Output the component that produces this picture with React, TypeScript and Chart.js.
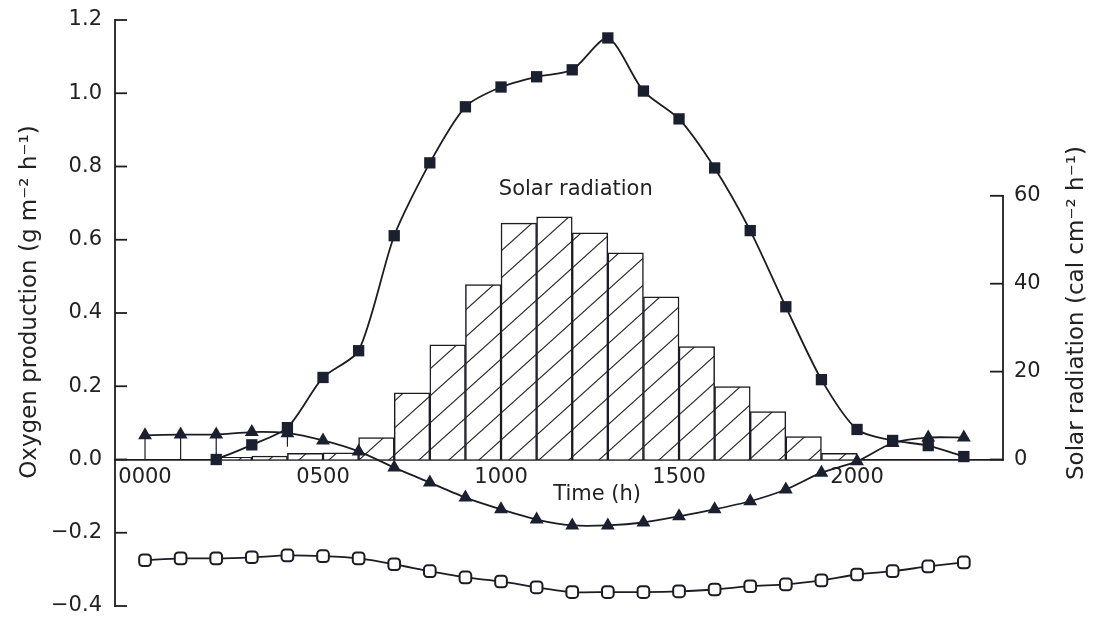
import React, { useEffect, useRef } from 'react';
import { Chart, registerables } from 'chart.js';

Chart.register(...registerables);

// ---------- data ----------
const hours = [0, 1, 2, 3, 4, 5, 6, 7, 8, 9, 10, 11, 12, 13, 14, 15, 16, 17, 18, 19, 20, 21, 22, 23];

// Gross production (filled squares), g m-2 h-1 (null = not measured)
const grossProduction = [null, null, 0.0, 0.04, 0.087, 0.224, 0.297, 0.611, 0.81, 0.963, 1.017, 1.045, 1.064, 1.151, 1.006, 0.93, 0.796, 0.625, 0.417, 0.218, 0.082, 0.052, 0.038, 0.008];

// Net production (filled triangles)
const netProduction = [0.066, 0.068, 0.068, 0.075, 0.072, 0.052, 0.022, -0.022, -0.063, -0.104, -0.136, -0.164, -0.18, -0.18, -0.172, -0.155, -0.136, -0.114, -0.082, -0.036, -0.005, 0.045, 0.06, 0.06];

// Respiration (open squares)
const respiration = [-0.275, -0.27, -0.27, -0.267, -0.262, -0.264, -0.27, -0.286, -0.305, -0.322, -0.333, -0.349, -0.362, -0.362, -0.362, -0.36, -0.355, -0.346, -0.341, -0.33, -0.314, -0.305, -0.292, -0.281];

// Lower ends of the thin vertical drop lines (null = none)
const netDropTo = [0, 0, 0, null, null, null, null, null, null, null, null, null, null, null, null, null, null, null, null, null, null, null, null, null];
const grossDropTo = [null, null, null, null, 0.035, null, null, null, null, null, null, null, null, null, null, null, null, null, null, null, null, null, null, null];

// Solar radiation, hourly bins starting at these hours (cal cm-2 h-1)
const solarStartHours = [0, 1, 2, 3, 4, 5, 6, 7, 8, 9, 10, 11, 12, 13, 14, 15, 16, 17, 18, 19, 20, 21, 22];
const solarRadiation = [0, 0, 0.5, 0.8, 1.4, 1.5, 5.0, 15.2, 26.1, 39.8, 53.8, 55.2, 51.6, 47.0, 37.0, 25.7, 16.6, 10.9, 5.2, 1.4, 0, 0, 0];

// ---------- ticks / labels ----------
const xTickValues = [0, 5, 10, 15, 20];
const xTickLabels = ['0000', '0500', '1000', '1500', '2000'];
const yTickValues = [-0.4, -0.2, 0, 0.2, 0.4, 0.6, 0.8, 1.0, 1.2];
const y2TickValues = [0, 20, 40, 60];

const leftTitle = 'Oxygen production (g m\u207B\u00B2 h\u207B\u00B9)';
const rightTitle = 'Solar radiation (cal cm\u207B\u00B2 h\u207B\u00B9)';
const xTitle = 'Time (h)';
const barLabel = 'Solar radiation';

const INK = '#1c1c24';
const TEXT = '#222';
const FONT = '"DejaVu Sans", "Liberation Sans", sans-serif';

function makeHatch(): CanvasPattern | string {
  const W = 30, H = 27;
  const c = document.createElement('canvas');
  c.width = W; c.height = H;
  const g = c.getContext('2d');
  if (!g) return '#fff';
  g.fillStyle = '#fff';
  g.fillRect(0, 0, W, H);
  g.strokeStyle = '#2a2a2a';
  g.lineWidth = 1.2;
  for (const dx of [-W, 0, W]) {
    g.beginPath();
    g.moveTo(dx - W * 0.2, H * 1.2);
    g.lineTo(dx + W * 1.2, -H * 0.2);
    g.stroke();
  }
  const p = g.createPattern(c, 'repeat');
  return p || '#fff';
}

const zeroPad = (s: any) => {
  s.paddingTop = 0; s.paddingBottom = 0; s.paddingLeft = 0; s.paddingRight = 0;
};

const decorPlugin = {
  id: 'decor',
  beforeDatasetsDraw(chart: any) {
    const { ctx, scales } = chart;
    const x = scales.x, y = scales.y;
    ctx.save();
    ctx.strokeStyle = INK;
    ctx.lineWidth = 1.2;
    hours.forEach((h, i) => {
      const a = netDropTo[i];
      if (a !== null && netProduction[i] !== null) {
        const px = x.getPixelForValue(h);
        ctx.beginPath();
        ctx.moveTo(px, y.getPixelForValue(netProduction[i] as number));
        ctx.lineTo(px, y.getPixelForValue(a));
        ctx.stroke();
      }
      const b = grossDropTo[i];
      if (b !== null && grossProduction[i] !== null) {
        const px = x.getPixelForValue(h);
        ctx.beginPath();
        ctx.moveTo(px, y.getPixelForValue(grossProduction[i] as number));
        ctx.lineTo(px, y.getPixelForValue(b));
        ctx.stroke();
      }
    });
    ctx.restore();
  },
  afterDraw(chart: any) {
    const { ctx, chartArea, scales } = chart;
    const x = scales.x, y = scales.y, y2 = scales.y2;
    ctx.save();
    ctx.strokeStyle = INK;
    ctx.lineWidth = 1.8;
    // left axis line
    const l = chartArea.left;
    ctx.beginPath();
    ctx.moveTo(l, y.getPixelForValue(yTickValues[0]) + 0.9);
    ctx.lineTo(l, y.getPixelForValue(yTickValues[yTickValues.length - 1]) - 0.9);
    ctx.stroke();
    // inward ticks on the left axis
    for (const v of yTickValues) {
      const py = y.getPixelForValue(v);
      ctx.beginPath();
      ctx.moveTo(l, py);
      ctx.lineTo(l + 12, py);
      ctx.stroke();
    }
    // right axis line (0..60 only) and inward ticks
    const r = chartArea.right;
    ctx.beginPath();
    ctx.moveTo(r, y2.getPixelForValue(y2TickValues[0]) + 0.9);
    ctx.lineTo(r, y2.getPixelForValue(y2TickValues[y2TickValues.length - 1]) - 0.9);
    ctx.stroke();
    for (const v of y2TickValues) {
      const py = y2.getPixelForValue(v);
      ctx.beginPath();
      ctx.moveTo(r - 13, py);
      ctx.lineTo(r, py);
      ctx.stroke();
    }
    // texts
    ctx.fillStyle = TEXT;
    ctx.textAlign = 'center';
    ctx.textBaseline = 'middle';
    ctx.font = `21px ${FONT}`;
    ctx.fillText(barLabel, x.getPixelForValue(12.1), y.getPixelForValue(0.736));
    ctx.fillText(xTitle, x.getPixelForValue(12.7), y.getPixelForValue(-0.097));
    // axis titles (both read bottom-to-top)
    ctx.font = `23px ${FONT}`;
    ctx.save();
    ctx.translate(30, y.getPixelForValue(0.43));
    ctx.rotate(-Math.PI / 2);
    ctx.fillText(leftTitle, 0, 0);
    ctx.restore();
    ctx.save();
    ctx.translate(1077, y.getPixelForValue(0.40));
    ctx.rotate(-Math.PI / 2);
    ctx.fillText(rightTitle, 0, 0);
    ctx.restore();
    ctx.restore();
  },
};

export default function App() {
  const ref = useRef<HTMLCanvasElement | null>(null);

  useEffect(() => {
    if (!ref.current) return;
    const hatch = makeHatch();
    const pts = (arr: (number | null)[]) =>
      hours.map((h, i) => ({ x: h, y: arr[i] })).filter((p) => p.y !== null);

    const lineCommon = {
      type: 'line',
      borderColor: INK,
      borderWidth: 1.8,
      tension: 0.25,
      fill: false,
      yAxisID: 'y',
    };

    const chart = new Chart(ref.current, {
      type: 'line',
      data: {
        datasets: [
          {
            ...lineCommon,
            label: 'Gross',
            data: pts(grossProduction) as any,
            pointStyle: 'rect',
            pointRadius: 8,
            pointBackgroundColor: '#1b2030',
            pointBorderColor: '#1b2030',
            pointBorderWidth: 0,
            order: 1,
          },
          {
            ...lineCommon,
            label: 'Net',
            data: pts(netProduction) as any,
            pointStyle: 'triangle',
            pointRadius: 8,
            pointBackgroundColor: '#1b2030',
            pointBorderColor: '#1b2030',
            pointBorderWidth: 0,
            order: 2,
          },
          {
            ...lineCommon,
            label: 'Respiration',
            data: pts(respiration) as any,
            pointStyle: 'rectRounded',
            pointRadius: 6.8,
            pointBackgroundColor: '#fff',
            pointBorderColor: INK,
            pointBorderWidth: 2,
            order: 3,
          },
          {
            type: 'bar',
            label: 'Solar radiation',
            data: solarStartHours.map((h, i) => ({ x: h + 0.5, y: solarRadiation[i] })) as any,
            backgroundColor: hatch as any,
            borderColor: INK,
            borderWidth: 1.5,
            barPercentage: 1,
            categoryPercentage: 1,
            order: 4,
            yAxisID: 'y2',
          },
        ],
      },
      options: {
        animation: false,
        responsive: false,
        devicePixelRatio: 1,
        events: [],
        layout: { padding: { left: 0, right: 0, top: 20, bottom: 11 } },
        plugins: { legend: { display: false }, tooltip: { enabled: false } },
        scales: {
          x: {
            type: 'linear',
            position: { y: 0 } as any,
            offset: false,
            min: -0.843,
            max: 24.1,
            afterBuildTicks: (s: any) => { s.ticks = xTickValues.map((v) => ({ value: v })); },
            afterFit: zeroPad,
            ticks: {
              padding: 8,
              color: TEXT,
              font: { family: FONT, size: 21, lineHeight: 1 },
              maxRotation: 0,
              autoSkip: false,
              callback: (v: any) => {
                const i = xTickValues.indexOf(Number(v));
                return i >= 0 ? xTickLabels[i] : '';
              },
            },
            grid: { display: false, drawTicks: false, tickLength: 0, offset: false },
            border: { display: true, color: INK, width: 1.8 },
          },
          y: {
            type: 'linear',
            position: 'left',
            min: -0.4,
            max: 1.2,
            afterBuildTicks: (s: any) => { s.ticks = yTickValues.map((v) => ({ value: v })); },
            afterFit: (s: any) => { s.width = 115; zeroPad(s); },
            ticks: {
              padding: 13,
              color: TEXT,
              font: { family: FONT, size: 21, lineHeight: 1 },
              callback: (v: any) => Number(v).toFixed(1).replace('-', '\u2212'),
            },
            grid: { display: false, drawTicks: false, tickLength: 0 },
            border: { display: false },
          },
          y2: {
            type: 'linear',
            position: 'right',
            min: -33.33,
            max: 100,
            afterBuildTicks: (s: any) => { s.ticks = y2TickValues.map((v) => ({ value: v })); },
            afterFit: (s: any) => { s.width = 90; zeroPad(s); },
            ticks: {
              padding: 11,
              color: TEXT,
              font: { family: FONT, size: 21, lineHeight: 1 },
              callback: (v: any) => String(v),
            },
            grid: { display: false, drawTicks: false, tickLength: 0 },
            border: { display: false },
          },
        },
      },
      plugins: [decorPlugin],
    } as any);

    return () => chart.destroy();
  }, []);

  return (
    <div style={{ position: 'fixed', left: 0, top: 0, width: 1093, height: 617, background: '#fff' }}>
      <canvas ref={ref} width={1093} height={617} style={{ display: 'block' }} />
    </div>
  );
}
